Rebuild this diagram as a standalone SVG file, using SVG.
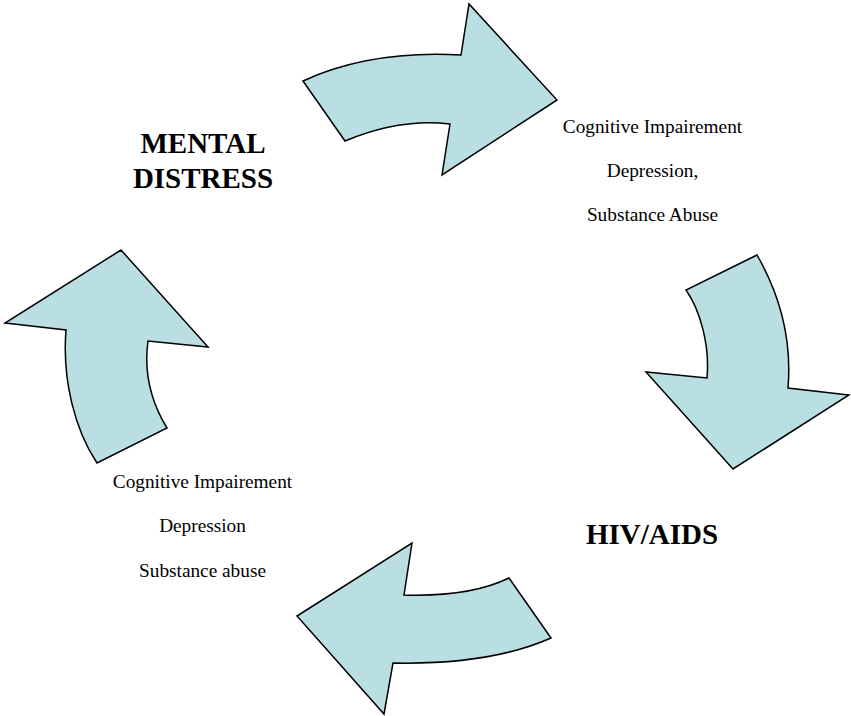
<svg xmlns="http://www.w3.org/2000/svg" width="851" height="716" viewBox="0 0 851 716">
<style>
.arrow{fill:#B9DFE2;stroke:#000;stroke-width:1.5;stroke-linejoin:miter}
.big{font-family:"Liberation Serif","Times New Roman",serif;font-weight:bold;font-size:29px;fill:#000;text-anchor:middle}
.small{font-family:"Liberation Serif","Times New Roman",serif;font-size:19.3px;fill:#000;text-anchor:middle}
</style>
<rect width="851" height="716" fill="#fff"/>
<g id="connectors">
<path id="arrow-top" class="arrow" d="M303,81 Q370,50 461,55 L469,4 L557,100 L442,175 L450,124 Q400,118 345,141 Z"/>
<path id="arrow-right" class="arrow" d="M757,255 L686,290 C700,310 710,345 707,378 L646,372 L733,469 L849,395 L788,388 C792,340 780,295 757,255 Z"/>
<path id="arrow-bottom" class="arrow" d="M412,543 L404,595 Q470,597 509,578 L551,638 Q490,665 393,663 L384,714 L297,616 Z"/>
<path id="arrow-left" class="arrow" d="M121,250 L208,347 L148,341 C144,370 150,400 167,428 L97,463 C75,430 62,380 66,330 L5,323 Z"/>
</g>
<g id="mental-distress">
<text class="big" x="203" y="153">MENTAL</text>
<text class="big" x="203" y="188">DISTRESS</text>
</g>
<g id="symptoms-right">
<text class="small" x="652.5" y="133">Cognitive Impairement</text>
<text class="small" x="652.5" y="177">Depression,</text>
<text class="small" x="652.5" y="221">Substance Abuse</text>
</g>
<g id="hiv-aids">
<text class="big" x="652" y="544">HIV/AIDS</text>
</g>
<g id="symptoms-left">
<text class="small" x="202.5" y="488">Cognitive Impairement</text>
<text class="small" x="202.5" y="532">Depression</text>
<text class="small" x="202.5" y="577">Substance abuse</text>
</g>
</svg>
